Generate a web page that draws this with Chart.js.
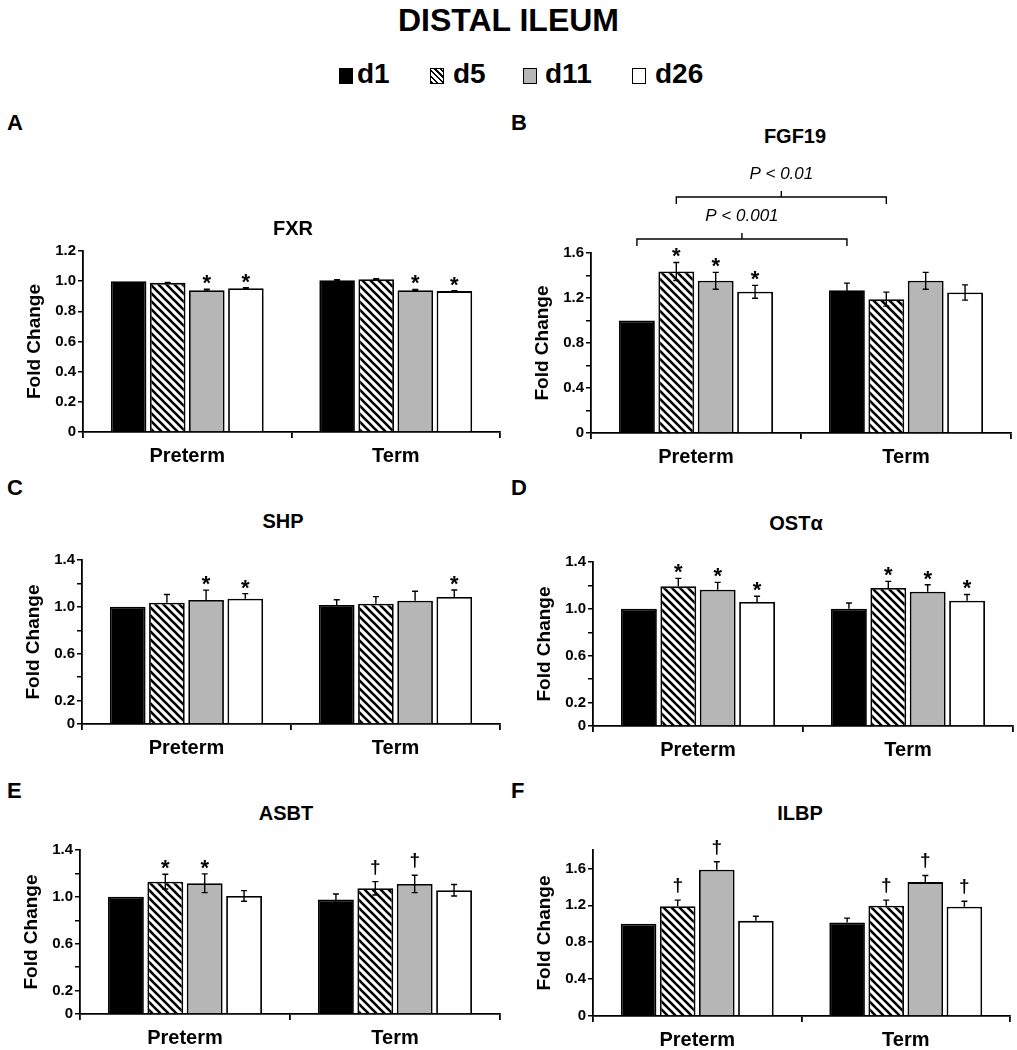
<!DOCTYPE html>
<html>
<head>
<meta charset="utf-8">
<script src="https://cdn.jsdelivr.net/npm/chart.js@4.4.1/dist/chart.umd.min.js"></script>
<style>
body { margin: 0; background: #fff; width: 1017px; height: 1050px; position: relative; overflow: hidden;
       font-family: 'Liberation Sans', Arial, sans-serif; color: #000; }
.txt { position: absolute; font-weight: bold; white-space: nowrap; line-height: 1; }
.gene { position: absolute; font-weight: bold; font-size: 20px; line-height: 1; transform: translate(-50%, -50%); white-space: nowrap; }
.sw { position: absolute; width: 14px; height: 16px; border: 1px solid #000; box-sizing: border-box; }
canvas { position: absolute; }
</style>
</head>
<body>
<div class="txt" style="left:0;width:1017px;text-align:center;top:4px;font-size:32px;">DISTAL ILEUM</div>

<div class="sw" style="left:339px;top:68px;background:#000;"></div>
<div class="txt" style="left:357px;top:60px;font-size:28px;">d1</div>
<div class="sw" style="left:430px;top:68px;background:repeating-linear-gradient(45deg,#000 0 1.6px,#fff 1.6px 4px);"></div>
<div class="txt" style="left:453px;top:60px;font-size:28px;">d5</div>
<div class="sw" style="left:523px;top:68px;background:#b6b6b6;"></div>
<div class="txt" style="left:545px;top:60px;font-size:28px;">d11</div>
<div class="sw" style="left:632px;top:68px;background:#fff;"></div>
<div class="txt" style="left:655px;top:60px;font-size:28px;">d26</div>

<div class="txt" style="left:7px;top:112px;font-size:22px;">A</div>
<div class="txt" style="left:511px;top:112px;font-size:22px;">B</div>
<div class="txt" style="left:7px;top:477px;font-size:22px;">C</div>
<div class="txt" style="left:511px;top:477px;font-size:22px;">D</div>
<div class="txt" style="left:7px;top:780px;font-size:22px;">E</div>
<div class="txt" style="left:511px;top:780px;font-size:22px;">F</div>

<script>
const groups = ['Preterm', 'Term'];
const days = ['d1', 'd5', 'd11', 'd26'];

// rows = days (d1, d5, d11, d26), cols = groups (Preterm, Term)
const fxrMean = [[1.00, 1.006], [0.989, 1.013], [0.940, 0.940], [0.953, 0.934]];
const fxrErr  = [[0, 0.004], [0.003, 0.003], [0.006, 0.005], [0.004, 0.003]];
const fxrSig  = [['', ''], ['', ''], ['*', '*'], ['*', '*']];
const fxrTicks = [0, 0.2, 0.4, 0.6, 0.8, 1.0, 1.2];

const fgfMean = [[1.00, 1.27], [1.436, 1.19], [1.353, 1.353], [1.255, 1.249]];
const fgfErr  = [[0, 0.062], [0.08, 0.062], [0.075, 0.075], [0.057, 0.068]];
const fgfSig  = [['', ''], ['*', ''], ['*', ''], ['*', '']];
const fgfTicks = [0, 0.4, 0.8, 1.2, 1.6];
// [group, day] -> [group, day], height in fold change units
const fgfBrackets = [
    { from: [0, 0], to: [1, 0], level: 1.724, label: 'P < 0.001' },
    { from: [0, 1], to: [1, 1], level: 2.098, label: 'P < 0.01' }
];

const shpMean = [[1.00, 1.016], [1.036, 1.027], [1.058, 1.053], [1.070, 1.084]];
const shpErr  = [[0, 0.045], [0.07, 0.06], [0.085, 0.08], [0.043, 0.06]];
const shpSig  = [['', ''], ['', ''], ['*', ''], ['*', '*']];
const shpTicks = [0, 0.2, 0.6, 1.0, 1.4];

const ostMean = [[1.00, 1.00], [1.192, 1.178], [1.163, 1.146], [1.058, 1.069]];
const ostErr  = [[0, 0.05], [0.068, 0.057], [0.063, 0.06], [0.05, 0.054]];
const ostSig  = [['', ''], ['*', '*'], ['*', '*'], ['*', '*']];

const asbtMean = [[1.00, 0.977], [1.130, 1.073], [1.116, 1.110], [1.008, 1.056]];
const asbtErr  = [[0, 0.048], [0.063, 0.057], [0.08, 0.074], [0.045, 0.049]];
const asbtSig  = [['', ''], ['*', '†'], ['*', '†'], ['', '']];

const ilbpMean = [[1.00, 1.014], [1.191, 1.195], [1.586, 1.452], [1.032, 1.184]];
const ilbpErr  = [[0, 0.047], [0.065, 0.061], [0.087, 0.072], [0.05, 0.061]];
const ilbpSig  = [['', ''], ['†', '†'], ['†', '†'], ['', '†']];

const panels = [
    { name: 'FXR', mean: fxrMean, err: fxrErr, sig: fxrSig, ticks: fxrTicks, max: 1.2, errMode: 'both',
      left: 83, right: 500, top: 251, bottom: 432, padTop: 30, titleX: 293, titleY: 228 },
    { name: 'FGF19', mean: fgfMean, err: fgfErr, sig: fgfSig, ticks: fgfTicks, max: 1.6, errMode: 'both', brackets: fgfBrackets,
      left: 591, right: 1011, top: 253, bottom: 433, padTop: 103, titleX: 795, titleY: 136 },
    { name: 'SHP', mean: shpMean, err: shpErr, sig: shpSig, ticks: shpTicks, max: 1.4, errMode: 'up',
      left: 82, right: 500, top: 560, bottom: 724, padTop: 25, titleX: 283, titleY: 521 },
    { name: 'OSTα', mean: ostMean, err: ostErr, sig: ostSig, ticks: shpTicks, max: 1.4, errMode: 'up',
      left: 593, right: 1013, top: 562, bottom: 726, padTop: 25, titleX: 796, titleY: 523 },
    { name: 'ASBT', mean: asbtMean, err: asbtErr, sig: asbtSig, ticks: shpTicks, max: 1.4, errMode: 'both',
      left: 80, right: 500, top: 850, bottom: 1014, padTop: 25, titleX: 286, titleY: 813 },
    { name: 'ILBP', mean: ilbpMean, err: ilbpErr, sig: ilbpSig, ticks: fgfTicks, max: 1.8, errMode: 'up',
      left: 593, right: 1010, top: 850, bottom: 1016, padTop: 25, titleX: 800, titleY: 813 }
];

const Y_W = 60, X_H = 40;
const FONT = '"Liberation Sans", Arial, sans-serif';

function HatchPattern() {
    const c = document.createElement('canvas');
    c.width = 8; c.height = 8;
    const g = c.getContext('2d');
    g.fillStyle = '#fff';
    g.fillRect(0, 0, 8, 8);
    g.strokeStyle = '#000';
    g.lineWidth = 2.6;
    for (const k of [-8, 0, 8]) {
        g.beginPath();
        g.moveTo(k - 1, -1);
        g.lineTo(k + 9, 9);
        g.stroke();
    }
    return g.createPattern(c, 'repeat');
}

const fills = ['#000', HatchPattern(), '#b6b6b6', '#fff'];

// error bars, significance marks and brackets
const extrasPlugin = {
    id: 'extras',
    afterDatasetsDraw(chart) {
        const p = chart.config.options.panel;
        const ctx = chart.ctx;
        const y = chart.scales.y;
        ctx.save();
        ctx.strokeStyle = '#000';
        ctx.fillStyle = '#000';
        ctx.lineWidth = 1.4;
        for (let i = 0; i < days.length; i++) {
            const meta = chart.getDatasetMeta(i);
            meta.data.forEach((bar, j) => {
                const m = p.mean[i][j], e = p.err[i][j];
                const yTop = y.getPixelForValue(m + e);
                if (e > 0) {
                    const yBot = p.errMode === 'both' ? y.getPixelForValue(m - e) : y.getPixelForValue(m);
                    ctx.beginPath();
                    ctx.moveTo(bar.x, yTop); ctx.lineTo(bar.x, yBot);
                    ctx.moveTo(bar.x - 3, yTop); ctx.lineTo(bar.x + 3, yTop);
                    if (p.errMode === 'both') { ctx.moveTo(bar.x - 3, yBot); ctx.lineTo(bar.x + 3, yBot); }
                    ctx.stroke();
                }
                const s = p.sig[i][j];
                if (s) {
                    ctx.textAlign = 'center';
                    ctx.textBaseline = 'alphabetic';
                    if (s === '*') {
                        ctx.font = 'bold 22px ' + FONT;
                        ctx.fillText(s, bar.x, yTop + 1);
                    } else {
                        ctx.font = 'bold 19px ' + FONT;
                        ctx.fillText(s, bar.x, yTop - 9);
                    }
                }
            });
        }
        for (const b of (p.brackets || [])) {
            const x1 = chart.getDatasetMeta(b.from[1]).data[b.from[0]].x;
            const x2 = chart.getDatasetMeta(b.to[1]).data[b.to[0]].x;
            const yy = y.getPixelForValue(b.level);
            const xm = (x1 + x2) / 2;
            ctx.beginPath();
            ctx.moveTo(x1, yy + 7); ctx.lineTo(x1, yy); ctx.lineTo(x2, yy); ctx.lineTo(x2, yy + 7);
            ctx.moveTo(xm, yy); ctx.lineTo(xm, yy - 6);
            ctx.stroke();
            ctx.font = 'italic 17px ' + FONT;
            ctx.textAlign = 'center';
            ctx.textBaseline = 'middle';
            ctx.fillText(b.label, xm, yy - 23);
        }
        ctx.restore();
    }
};

function AddPanel(p) {
    const top = p.top - p.padTop;
    const canvas = document.createElement('canvas');
    canvas.width = p.right - (p.left - Y_W) + 4;
    canvas.height = p.bottom - top + X_H;
    canvas.style.left = (p.left - Y_W) + 'px';
    canvas.style.top = top + 'px';
    document.body.appendChild(canvas);

    const title = document.createElement('div');
    title.className = 'gene';
    title.style.left = p.titleX + 'px';
    title.style.top = p.titleY + 'px';
    title.textContent = p.name;
    document.body.appendChild(title);

    return new Chart(canvas.getContext('2d'), {
        type: 'bar',
        data: {
            labels: groups,
            datasets: days.map((d, i) => ({
                label: d,
                data: p.mean[i],
                backgroundColor: fills[i],
                borderColor: '#000',
                borderWidth: 1.8,
                categoryPercentage: 0.75,
                barPercentage: 0.91
            }))
        },
        options: {
            panel: p,
            responsive: false,
            animation: false,
            layout: { padding: { top: p.padTop, right: 4, left: 0, bottom: 0 } },
            plugins: { legend: { display: false }, tooltip: { enabled: false } },
            scales: {
                x: {
                    grid: { offset: true, drawOnChartArea: false, tickLength: 6, color: '#000', lineWidth: 1.8 },
                    border: { color: '#000', width: 1.8 },
                    ticks: { color: '#000', padding: 6, font: { family: FONT, size: 20, weight: 'bold' } },
                    afterFit: s => { s.height = X_H; }
                },
                y: {
                    min: 0,
                    max: p.max,
                    grid: { drawOnChartArea: false, tickLength: 5, color: '#000', lineWidth: 1.5 },
                    border: { color: '#000', width: 1.8 },
                    ticks: {
                        stepSize: 0.2,
                        color: '#000',
                        padding: 2,
                        font: { family: FONT, size: 15, weight: 'bold' },
                        callback: v => {
                            const r = Math.round(v * 10) / 10;
                            if (p.ticks.indexOf(r) < 0) return '';
                            return r === 0 ? '0' : r.toFixed(1);
                        }
                    },
                    title: { display: true, text: 'Fold Change', color: '#000', padding: 0,
                             font: { family: FONT, size: 19, weight: 'bold' } },
                    afterFit: s => { s.width = Y_W; }
                }
            }
        },
        plugins: [extrasPlugin]
    });
}

for (const p of panels) AddPanel(p);
</script>
</body>
</html>
